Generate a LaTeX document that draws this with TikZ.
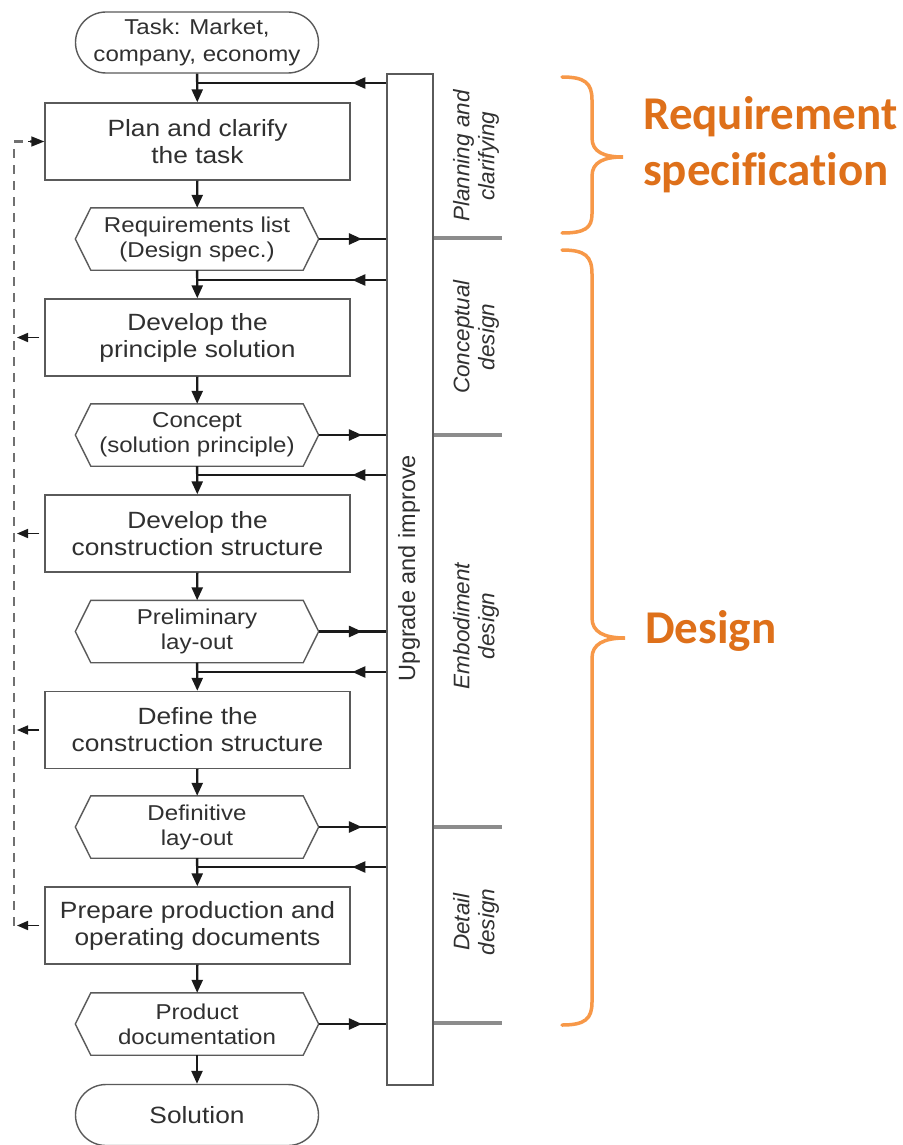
\documentclass[tikz,border=0pt]{standalone}
\usepackage{fontspec}
\setmainfont{Liberation Sans}
\newfontfamily\flowfont[FakeStretch=1.12]{Liberation Sans}
\newfontfamily\tagfont[Ligatures=NoCommon]{Carlito}
\usetikzlibrary{shapes.misc,arrows.meta,decorations.markings}

\definecolor{boxgray}{HTML}{5A5A5A}
\definecolor{arrowcol}{HTML}{1A1A1A}
\definecolor{txt}{HTML}{303030}
\definecolor{sepgray}{HTML}{8C8C8C}
\definecolor{dashgray}{HTML}{707070}
\definecolor{braceorange}{RGB}{247,152,72}
\definecolor{tagorange}{RGB}{222,112,26}

\tikzset{
  stepbox/.style={draw=boxgray, line width=1.4pt, minimum width=305pt,
    minimum height=77pt, inner sep=0pt, text=txt, align=center,
    font=\flowfont\fontsize{23.5}{27}\selectfont},
  hexcore/.style={minimum width=212pt, minimum height=62pt, inner sep=0pt,
    text=txt, align=center, font=\flowfont\fontsize{21.5}{25}\selectfont},
  hexline/.style={draw=boxgray, line width=1.4pt},
  terminal/.style={rounded rectangle, draw=boxgray, line width=1.4pt,
    minimum width=243pt, minimum height=61pt, inner sep=0pt, text=txt,
    align=center},
  flow/.style={draw=arrowcol, line width=2.4pt,
    -{Triangle[length=13pt,width=11pt]}},
  busline/.style={draw=arrowcol, line width=2.4pt, postaction={decorate}},
  tipat/.style={decoration={markings,
    mark=at position #1 with {\arrow{Triangle[length=13pt,width=11pt]}}}},
  backarrow/.style={draw=arrowcol, line width=1.6pt,
    -{Triangle[length=11pt,width=9pt]}, shorten >=3pt},
  dashline/.style={draw=dashgray, line width=2.2pt, dash pattern=on 9pt off 7pt},
  phasesep/.style={draw=sepgray, line width=3.5pt},
  phase/.style={rotate=90, text=txt, align=center,
    font=\itshape\fontsize{22.5}{25}\selectfont},
  brace/.style={draw=braceorange, line width=3.5pt, line cap=round},
  tag/.style={text=tagorange, align=left, inner sep=0pt,
    font=\tagfont\bfseries\fontsize{47}{55}\selectfont}
}

\begin{document}
\begin{tikzpicture}[x=1pt,y=-1pt]
\useasboundingbox[fill=white] (0,0) rectangle (902,1145);

% main chain of steps and results
\node[terminal, font=\flowfont\fontsize{21.5}{27}\selectfont] (task) at (197,42.5) {Task: Market,\\company, economy};
\node[stepbox] (plan)   at (197.5,141.5) {Plan and clarify\\the task};
\node[hexcore] (req)    at (197,239)    {Requirements list\\(Design spec.)};
\node[stepbox] (prin)   at (197.5,337.5) {Develop the\\principle solution};
\node[hexcore] (concept) at (197,435)   {Concept\\(solution principle)};
\node[stepbox] (constr) at (197.5,533.5) {Develop the\\construction structure};
\node[hexcore] (prelim) at (197,631.5)  {Preliminary\\lay-out};
\node[stepbox] (define) at (197.5,730)  {Define the\\construction structure};
\node[hexcore] (defin)  at (197,827)    {Definitive\\lay-out};
\node[stepbox] (prep)   at (197.5,925.5) {Prepare production and\\operating documents};
\node[hexcore] (prod)   at (197,1024)   {Product\\documentation};
\node[terminal, font=\flowfont\fontsize{23.5}{27}\selectfont] (sol) at (197,1115) {Solution};

% hexagonal outlines of the result nodes
\foreach \n in {req,concept,prelim,defin,prod}{
  \draw[hexline] (\n.north west) -- (\n.north east) -- ([xshift=15.5pt]\n.east)
    -- (\n.south east) -- (\n.south west) -- ([xshift=-15.5pt]\n.west) -- cycle;
}

% vertical bar
\node[draw=boxgray, line width=1.4pt, minimum width=46pt, minimum height=1011pt,
  inner sep=0pt] (upbar) at (410,579.5) {};
\node[rotate=90, text=txt, font=\fontsize{23.5}{27}\selectfont] (uplabel) at (409,568) {Upgrade and improve};

% downward flow
\draw[flow] (task) -- (plan);
\draw[flow] (plan) -- (req);
\draw[flow] (req) -- (prin);
\draw[flow] (prin) -- (concept);
\draw[flow] (concept) -- (constr);
\draw[flow] (constr) -- (prelim);
\draw[flow] (prelim) -- (define);
\draw[flow] (define) -- (defin);
\draw[flow] (defin) -- (prep);
\draw[flow] (prep) -- (prod);
\draw[flow] (prod) -- (sol);

% feedback from the bar into the chain
\foreach \y/\m [count=\i] in {83/plan,280/prin,475/constr,672/define,867/prep}{
  \coordinate (fb\i) at (upbar.west |- 0,\y);
  \draw[busline, tipat=0.18] (fb\i) -- (fb\i -| \m);
}

% results passed to the bar
\foreach \n in {req,concept,prelim,defin,prod}{
  \draw[busline, tipat=0.64] ([xshift=15.5pt]\n.east) -- (\n -| upbar.west);
}

% phase separators and labels
\foreach \n/\y [count=\i] in {req/238,concept/435,defin/827,prod/1023}{
  \coordinate (sepend\i) at (502,\y);
  \draw[phasesep] (upbar.east |- sepend\i) -- (sepend\i);
}
\node[phase] (ph1) at (476,156) {Planning and\\clarifying};
\node[phase] (ph2) at (476,337) {Conceptual\\design};
\node[phase] (ph3) at (476,626) {Embodiment\\design};
\node[phase] (ph4) at (476,922) {Detail\\design};

% iteration loop on the left
\coordinate (dtop) at (14,141.5);
\coordinate (dbot) at (14,925.5);
\draw[dashline] (dbot) -- (dtop) -- ([xshift=-12pt]plan.west);
\draw[draw=arrowcol, line width=1.6pt, -{Triangle[length=13pt,width=10pt]}]
  ([xshift=-16pt]plan.west) -- (plan.west);
\foreach \m in {prin,constr,define,prep}{
  \draw[backarrow] ([xshift=-5pt]\m.west) -- (\m.west -| dtop);
}

% braces and stage names
\draw[brace] (562,77) .. controls (585,77) and (592,83) .. (592,100)
  -- (592,138) .. controls (592,152) and (604,157) .. (623,157)
  .. controls (604,157) and (592,162) .. (592,176)
  -- (592,214) .. controls (592,228) and (585,233) .. (562,233);
\draw[brace] (562,250) .. controls (585,250) and (592,256) .. (592,274)
  -- (592,618) .. controls (592,632) and (604,638) .. (625,638)
  .. controls (604,638) and (592,644) .. (592,658)
  -- (592,1002) .. controls (592,1019) and (585,1025) .. (562,1025);
\node[tag, anchor=base west] (tagreq) at (643,185) {Requirement\\specification};
\node[tag, anchor=base west] (tagdes) at (645,643) {Design};
\end{tikzpicture}
\end{document}
